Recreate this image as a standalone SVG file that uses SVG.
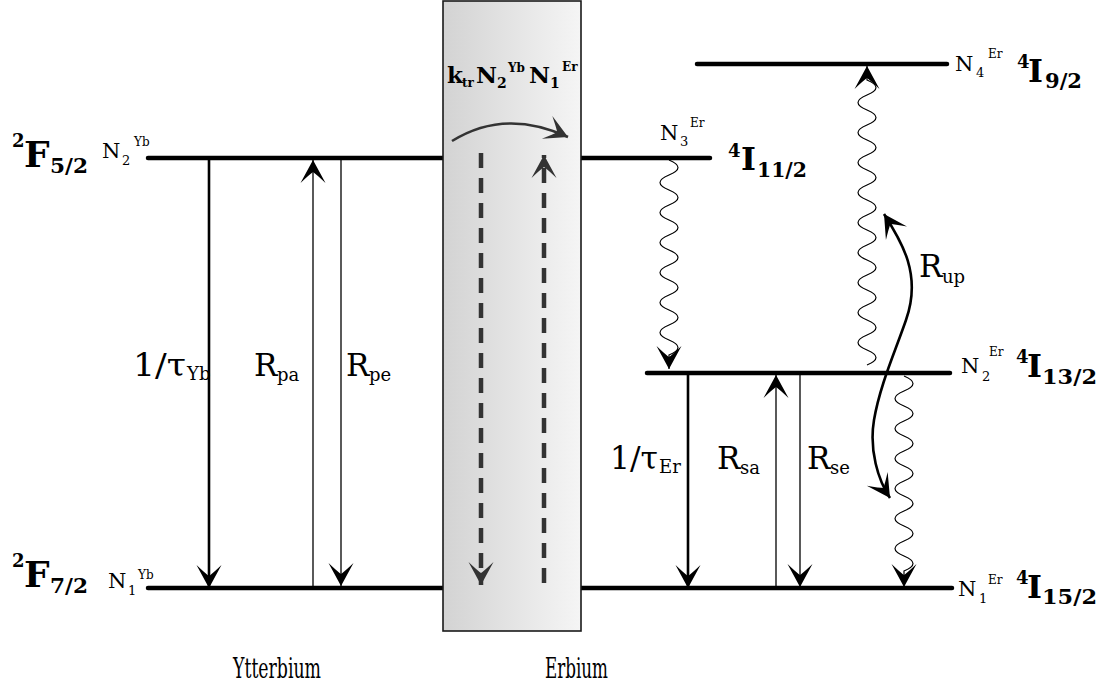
<svg xmlns="http://www.w3.org/2000/svg" width="1108" height="689" viewBox="0 0 1108 689">
<defs>
  <linearGradient id="boxg" x1="0" y1="0" x2="1" y2="0">
    <stop offset="0" stop-color="#d3d3d3"/>
    <stop offset="1" stop-color="#f5f5f5"/>
  </linearGradient>
  <marker id="ah" markerUnits="userSpaceOnUse" orient="auto" overflow="visible" markerWidth="1" markerHeight="1" refX="0" refY="0">
    <path d="M0,0 L-23,-12.5 Q-14,-3 -12,0 Q-14,3 -23,12.5 Z" fill="#000"/>
  </marker>
  <marker id="ahs" markerUnits="userSpaceOnUse" orient="auto-start-reverse" overflow="visible" markerWidth="1" markerHeight="1" refX="0" refY="0">
    <path d="M0,0 L-23,-12.5 Q-14,-3 -12,0 Q-14,3 -23,12.5 Z" fill="#000"/>
  </marker>
  <marker id="ahg" markerUnits="userSpaceOnUse" orient="auto" overflow="visible" markerWidth="1" markerHeight="1" refX="0" refY="0">
    <path d="M0,0 L-23,-12.5 Q-14,-3 -12,0 Q-14,3 -23,12.5 Z" fill="#333"/>
  </marker>
</defs>
<style>
  .lvl{stroke:#000;stroke-width:4.5;stroke-linecap:round;fill:none}
  .thick{stroke:#000;stroke-width:2.6;fill:none}
  .thin{stroke:#000;stroke-width:1.3;fill:none}
  .wave{stroke:#000;stroke-width:1.2;fill:none}
  .dash{stroke:#333;stroke-width:4.5;stroke-dasharray:15 10;fill:none}
  .curve{stroke:#333;stroke-width:2.6;fill:none}
  text{font-family:"DejaVu Serif","Liberation Serif",serif;fill:#000}
  .b{font-weight:bold}
  .big{font-size:36px}
  .I{font-size:32px}
  .sup4{font-size:18px}
  .frac{font-size:20px}
  .N{font-size:21px}
  .ns{font-size:13px}
  .nsup{font-size:12px}
  .R{font-size:31px}
  .rs{font-size:18px}
</style>

<g id="yb-upper">
  <line class="lvl" x1="148" y1="158" x2="443" y2="158"/>
  <text class="b sup4" x="12" y="147">2</text>
  <text class="b big" x="24" y="167">F</text>
  <text class="b frac" x="50" y="173" textLength="38" lengthAdjust="spacingAndGlyphs">5/2</text>
  <text class="N" x="102" y="158">N</text>
  <text class="ns" x="122" y="165">2</text>
  <text class="nsup" x="134" y="146">Yb</text>
</g>
<g id="yb-lower">
  <line class="lvl" x1="148" y1="588" x2="443" y2="588"/>
  <text class="b sup4" x="12" y="567">2</text>
  <text class="b big" x="24" y="587">F</text>
  <text class="b frac" x="50" y="593" textLength="38" lengthAdjust="spacingAndGlyphs">7/2</text>
  <text class="N" x="108" y="588">N</text>
  <text class="ns" x="128" y="595">1</text>
  <text class="nsup" x="138" y="579">Yb</text>
</g>

<g id="er-n4">
  <line class="lvl" x1="697" y1="64" x2="947" y2="64"/>
  <text class="N" x="955" y="71">N</text>
  <text class="ns" x="976" y="77">4</text>
  <text class="nsup" x="988" y="58">Er</text>
  <text class="b sup4" x="1017" y="68">4</text>
  <text class="b I" x="1028" y="82">I</text>
  <text class="b frac" x="1045" y="88" textLength="37" lengthAdjust="spacingAndGlyphs">9/2</text>
</g>
<g id="er-n3">
  <line class="lvl" x1="581" y1="158" x2="710" y2="158"/>
  <text class="N" x="660" y="140">N</text>
  <text class="ns" x="680" y="146">3</text>
  <text class="nsup" x="690" y="127">Er</text>
  <text class="b sup4" x="728" y="157">4</text>
  <text class="b I" x="741" y="170">I</text>
  <text class="b frac" x="757" y="177" textLength="50" lengthAdjust="spacingAndGlyphs">11/2</text>
</g>
<g id="er-n2">
  <line class="lvl" x1="647" y1="373" x2="950" y2="373"/>
  <text class="N" x="961" y="373">N</text>
  <text class="ns" x="982" y="381">2</text>
  <text class="nsup" x="989" y="356">Er</text>
  <text class="b sup4" x="1016" y="363">4</text>
  <text class="b I" x="1027" y="377">I</text>
  <text class="b frac" x="1042" y="384" textLength="55" lengthAdjust="spacingAndGlyphs">13/2</text>
</g>
<g id="er-n1">
  <line class="lvl" x1="581" y1="588" x2="952" y2="588"/>
  <text class="N" x="958" y="596">N</text>
  <text class="ns" x="979" y="603">1</text>
  <text class="nsup" x="988" y="584">Er</text>
  <text class="b sup4" x="1016" y="584">4</text>
  <text class="b I" x="1027" y="598">I</text>
  <text class="b frac" x="1042" y="604" textLength="55" lengthAdjust="spacingAndGlyphs">15/2</text>
</g>

<g id="transfer">
  <rect x="443" y="1" width="138" height="630" fill="url(#boxg)" stroke="#1a1a1a" stroke-width="1.6"/>
  <text class="b" x="447" y="83" font-size="23">k</text>
  <text class="b" x="462" y="87" font-size="12">tr</text>
  <text class="b" x="476" y="83" font-size="23">N</text>
  <text class="b" x="497" y="88" font-size="14">2</text>
  <text class="b" x="508" y="72" font-size="12">Yb</text>
  <text class="b" x="529" y="83" font-size="23">N</text>
  <text class="b" x="550" y="88" font-size="14">1</text>
  <text class="b" x="562" y="71" font-size="12">Er</text>
</g>

<g id="connectors">
  <path class="curve" d="M452,141 Q505,108 568,137" marker-end="url(#ahg)"/>
  <line class="dash" x1="481" y1="153" x2="481" y2="585" marker-end="url(#ahg)"/>
  <line class="dash" x1="544" y1="583" x2="544" y2="155" marker-end="url(#ahg)"/>

  <line class="thick" x1="209" y1="158" x2="209" y2="588" marker-end="url(#ah)"/>
  <line class="thin" x1="313" y1="588" x2="313" y2="160" marker-end="url(#ah)"/>
  <line class="thin" x1="341" y1="158" x2="341" y2="586" marker-end="url(#ah)"/>

  <line class="thick" x1="688" y1="373" x2="688" y2="588" marker-end="url(#ah)"/>
  <line class="thin" x1="776" y1="588" x2="776" y2="375" marker-end="url(#ah)"/>
  <line class="thin" x1="800" y1="373" x2="800" y2="587" marker-end="url(#ah)"/>

  <path class="wave" d="M669,160 q18,7.5 0,15 t0,15 t0,15 t0,15 t0,15 t0,15 t0,15 t0,15 t0,15 t0,15 t0,15 t0,15 t0,15 l0,14" marker-end="url(#ah)"/>
  <path class="wave" d="M867,365 q18,-7.5 0,-15 t0,-15 t0,-15 t0,-15 t0,-15 t0,-15 t0,-15 t0,-15 t0,-15 t0,-15 t0,-15 t0,-15 t0,-15 t0,-15 t0,-15 t0,-15 t0,-15 t0,-15 t0,-15 l0,-14" marker-end="url(#ah)"/>
  <path class="wave" d="M904,376 q18,7.5 0,15 t0,15 t0,15 t0,15 t0,15 t0,15 t0,15 t0,15 t0,15 t0,15 t0,15 t0,15 t0,15 l0,16" marker-end="url(#ah)"/>

  <path class="thick" d="M884,214 C902,242 922,275 906,320 C895,352 880,385 874,420 C869,450 878,480 890,498" marker-start="url(#ahs)" marker-end="url(#ah)"/>
</g>

<g id="labels">
  <text class="R" x="133" y="376" textLength="53" lengthAdjust="spacingAndGlyphs">1/τ</text>
  <text class="rs" x="187" y="380">Yb</text>
  <text class="R" x="254" y="376">R</text>
  <text class="rs" x="277" y="381">pa</text>
  <text class="R" x="346" y="376">R</text>
  <text class="rs" x="369" y="381">pe</text>

  <text class="R" x="610" y="469" textLength="48" lengthAdjust="spacingAndGlyphs">1/τ</text>
  <text class="rs" x="659" y="473">Er</text>
  <text class="R" x="717" y="469">R</text>
  <text class="rs" x="740" y="474">sa</text>
  <text class="R" x="807" y="469">R</text>
  <text class="rs" x="830" y="474">se</text>

  <text class="R" x="919" y="277">R</text>
  <text class="rs" x="942" y="283">up</text>

  <text x="233" y="678" font-size="28" textLength="88" lengthAdjust="spacingAndGlyphs">Ytterbium</text>
  <text x="545" y="678" font-size="28" textLength="63" lengthAdjust="spacingAndGlyphs">Erbium</text>
</g>
</svg>
